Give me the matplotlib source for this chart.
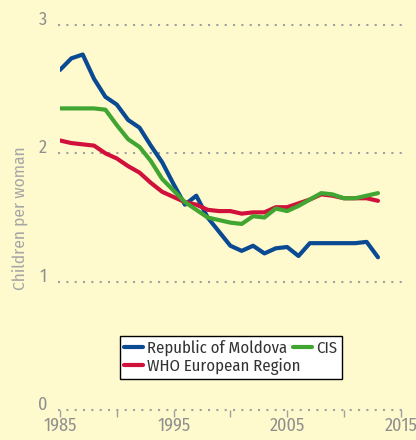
import matplotlib
matplotlib.use("Agg")
import matplotlib.pyplot as plt
from matplotlib import font_manager
import matplotlib.transforms as mtransforms

# total fertility rate, children per woman
years = list(range(1985, 2014))
moldova = [2.65, 2.74, 2.77, 2.58, 2.44, 2.38, 2.26, 2.20, 2.06, 1.93,
           1.76, 1.60, 1.67, 1.50, 1.39, 1.28, 1.24, 1.28, 1.22, 1.26,
           1.27, 1.20, 1.30, 1.30, 1.30, 1.30, 1.30, 1.31, 1.19]
cis = [2.35, 2.35, 2.35, 2.35, 2.34, 2.22, 2.11, 2.05, 1.94, 1.80,
       1.71, 1.62, 1.56, 1.50, 1.48, 1.46, 1.45, 1.51, 1.50, 1.57,
       1.55, 1.59, 1.64, 1.69, 1.68, 1.65, 1.65, 1.67, 1.69]
who_eur = [2.10, 2.08, 2.07, 2.06, 2.00, 1.96, 1.90, 1.85, 1.77, 1.70,
           1.66, 1.62, 1.60, 1.56, 1.55, 1.55, 1.53, 1.54, 1.54, 1.58,
           1.58, 1.61, 1.64, 1.68, 1.67, 1.65, 1.65, 1.65, 1.63]

x_ticks = [1985, 1990, 1995, 2000, 2005, 2010, 2015]
x_labels = ['1985', '', '1995', '', '2005', '', '2015']
y_grid = [0, 1, 2, 3]

# narrow face like the original
names = set(f.name for f in font_manager.fontManager.ttflist)
if 'Fira Sans Condensed' in names:
    plt.rcParams['font.family'] = ['Fira Sans Condensed', 'DejaVu Sans']
else:
    plt.rcParams['font.family'] = ['DejaVu Sans']
    plt.rcParams['font.stretch'] = 'condensed'

bg = '#fffacd'
grey = '#8f8f8f'

fig = plt.figure(figsize=(4.16, 4.40), dpi=100, facecolor=bg)
ax = fig.add_axes([60/416, 1-410/440, (400.7-60)/416, 385/440])
ax.set_facecolor(bg)
ax.set_xlim(1985, 2015)
ax.set_ylim(0, 3)
for s in ax.spines.values():
    s.set_visible(False)

# dotted grid lines (the zero line is the x axis)
for v in y_grid:
    ax.plot([1984.85, 2015.1], [v, v], color='#a0a0a0', lw=1.5,
            ls=(0, (1, 3)), clip_on=False, zorder=1)
    ax.text(-0.038, v, str(v), transform=mtransforms.blended_transform_factory(ax.transAxes, ax.transData),
            ha='right', va='baseline', fontsize=13, color=grey)

ax.set_yticks([])
ax.set_xticks(x_ticks)
ax.set_xticklabels(x_labels)
ax.tick_params(axis='x', length=5, width=1, color='#a0a0a0', labelcolor=grey,
               labelsize=13, pad=0)

l1, = ax.plot(years, moldova, color='#0a4a93', lw=3, solid_joinstyle='round',
              solid_capstyle='round', zorder=3)
l3, = ax.plot(years, who_eur, color='#d0113c', lw=3, solid_joinstyle='round',
              solid_capstyle='round', zorder=4)
l2, = ax.plot(years, cis, color='#41a532', lw=3, solid_joinstyle='round',
              solid_capstyle='round', zorder=5)

fig.text(19.5/416, 1-218/440, 'Children per woman', rotation=90, ha='center',
         va='center', fontsize=12.5, color='#a6a6a6')

# CIS sits right after "Moldova", overlapping the width of the second row
leg = ax.legend([l1, l3, l2], ['Republic of Moldova', 'WHO European Region', 'CIS'],
                ncol=2, loc='upper left', bbox_to_anchor=((120-60)/340.7, (410-336)/385),
                fontsize=12, frameon=True, fancybox=False, framealpha=1,
                edgecolor='black', handlelength=1.15, handletextpad=0.25,
                columnspacing=-0.48, labelspacing=0.1, borderpad=0.25,
                borderaxespad=0)
leg.get_frame().set_linewidth(1)
for t in leg.get_texts():
    t.set_color('#333333')

fig.savefig('out.png', dpi=100, facecolor=bg)
